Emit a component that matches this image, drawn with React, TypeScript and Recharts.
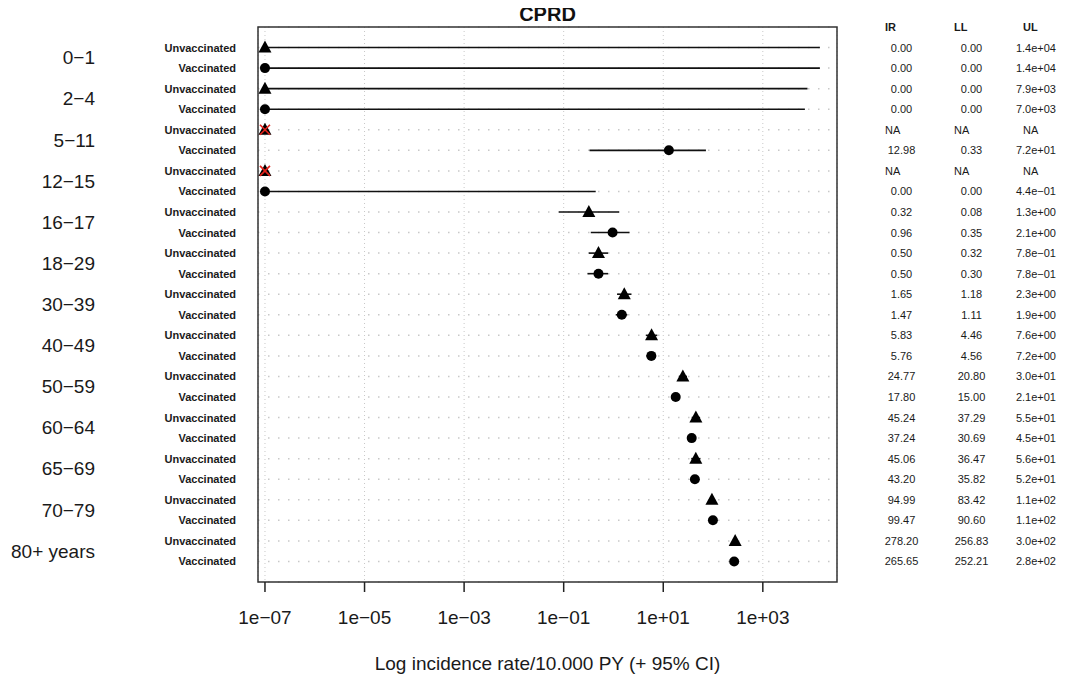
import { ScatterChart, Scatter, XAxis, YAxis, CartesianGrid, ReferenceLine, ReferenceArea } from 'recharts'

const FONT = '"Liberation Sans", Arial, Helvetica, sans-serif'

// age bands, two rows each (unvaccinated first)
const ageGroups = ['0−1', '2−4', '5−11', '12−15', '16−17', '18−29', '30−39', '40−49', '50−59', '60−64', '65−69', '70−79', '80+ years']
const statuses = ageGroups.flatMap(() => ['Unvaccinated', 'Vaccinated'])

// incidence rate / 10,000 PY with 95% CI, null = NA
const ir = [0, 0, 0, 0, null, 12.98, null, 0, 0.32, 0.96, 0.5, 0.5, 1.65, 1.47, 5.83, 5.76, 24.77, 17.8, 45.24, 37.24, 45.06, 43.2, 94.99, 99.47, 278.2, 265.65]
const ll = [0, 0, 0, 0, null, 0.33, null, 0, 0.08, 0.35, 0.32, 0.3, 1.18, 1.11, 4.46, 4.56, 20.8, 15.0, 37.29, 30.69, 36.47, 35.82, 83.42, 90.6, 256.83, 252.21]
const ul = [1.4e4, 1.4e4, 7.9e3, 7.0e3, null, 72, null, 0.44, 1.3, 2.1, 0.78, 0.78, 2.3, 1.9, 7.6, 7.2, 30, 21, 55, 45, 56, 52, 110, 110, 300, 280]

const xTicks = [1e-7, 1e-5, 1e-3, 1e-1, 1e1, 1e3]
const xTickLabels = ['1e−07', '1e−05', '1e−03', '1e−01', '1e+01', '1e+03']

// zero / NA values are drawn at the left end of the log axis
const FLOOR = 1e-7
const X_MIN = Math.pow(10, -7.14)
const X_MAX = Math.pow(10, 4.49)
const N_ROWS = statuses.length

const rowTicks = statuses.map((_, i) => i + 1)
const groupTicks = ageGroups.map((_, i) => 2 * i + 1.5)
const tableTicks = [0, ...rowTicks]

const points = statuses.map((s, i) => ({
  x: ir[i] === null || ir[i] === 0 ? FLOOR : (ir[i] as number),
  y: i + 1,
  tri: s === 'Unvaccinated',
  na: ir[i] === null,
}))

// anchor rows so the label-only axes get a scale
const groupAnchors = groupTicks.map((y) => ({ x: FLOOR, y }))
const tableAnchors = tableTicks.map((y) => ({ x: FLOOR, y }))

const intervals = statuses
  .map((_, i) => ({ row: i + 1, lo: ll[i], hi: ul[i] }))
  .filter((d) => d.lo !== null && d.hi !== null)
  .map((d) => ({ row: d.row, lo: Math.max(d.lo as number, FLOOR), hi: d.hi as number }))

function sci(v: number) {
  const [m, e] = v.toExponential(1).split('e')
  const n = Number(e)
  return `${m}e${n < 0 ? '−' : '+'}${String(Math.abs(n)).padStart(2, '0')}`
}

const fixed2 = (v: number) => v.toFixed(2)

function Marker(props: any) {
  const { cx, cy, payload } = props
  if (cx == null || cy == null) return null
  const shape = payload.tri ? (
    <polygon points={`${cx},${cy - 7} ${cx - 6.5},${cy + 5} ${cx + 6.5},${cy + 5}`} fill="#000" />
  ) : (
    <circle cx={cx} cy={cy} r={5} fill="#000" />
  )
  return (
    <g>
      {shape}
      {payload.na && (
        <g stroke="#e3231c" strokeWidth={1.6}>
          <line x1={cx - 5} y1={cy - 5} x2={cx + 5} y2={cy + 5} />
          <line x1={cx - 5} y1={cy + 5} x2={cx + 5} y2={cy - 5} />
        </g>
      )}
    </g>
  )
}

const NoShape = () => <g />

function StatusTick({ x, y, payload }: any) {
  return (
    <text x={x} y={y} textAnchor="end" dominantBaseline="central" fontFamily={FONT} fontSize={11} fontWeight="bold" fill="#1a1a1a">
      {statuses[payload.value - 1]}
    </text>
  )
}

function GroupTick({ x, y, payload }: any) {
  return (
    <text x={x} y={y} textAnchor="end" dominantBaseline="central" fontFamily={FONT} fontSize={19} fill="#1a1a1a">
      {ageGroups[Math.round((payload.value - 1.5) / 2)]}
    </text>
  )
}

function TableTick({ x, y, payload, header, values, shift, anchor, format }: any) {
  const row = payload.value
  const common = { y, dominantBaseline: 'central', fontFamily: FONT, fontSize: 11, fill: '#1a1a1a' } as any
  if (row === 0) {
    return <text {...common} x={x} textAnchor="start" fontWeight="bold">{header}</text>
  }
  const v = values[row - 1]
  if (v === null) {
    return <text {...common} x={x} textAnchor="start">NA</text>
  }
  return <text {...common} x={x + shift} textAnchor={anchor}>{format(v)}</text>
}

const tableAxis = {
  orientation: 'right' as const,
  type: 'number' as const,
  reversed: true,
  domain: [0, N_ROWS + 1],
  ticks: tableTicks,
  interval: 0,
  axisLine: false,
  tickLine: false,
  tickSize: 0,
}

export default function App() {
  return (
    <div style={{ position: 'relative', width: 1060, height: 671 }}>
      <div
        style={{
          position: 'absolute',
          top: -4,
          left: 250,
          width: 579,
          textAlign: 'center',
          fontFamily: FONT,
          fontWeight: 'bold',
          fontSize: 20,
          lineHeight: '20px',
          color: '#111',
        }}
      >
        CPRD
      </div>
      <ScatterChart width={1060} height={671} margin={{ top: 19, right: 23, bottom: 0, left: 0 }}>
        <CartesianGrid horizontal={false} stroke="#c8c8c8" strokeDasharray="1 3" />
        <CartesianGrid vertical={false} stroke="#c8c8c8" strokeWidth={1.5} strokeDasharray="1.5 8.5" />
        <XAxis
          dataKey="x"
          type="number"
          scale="log"
          domain={[X_MIN, X_MAX]}
          allowDataOverflow
          ticks={xTicks}
          interval={0}
          tickFormatter={(v: number, i: number) => xTickLabels[i]}
          axisLine={false}
          tickSize={10}
          tickMargin={19}
          tickLine={{ stroke: '#222', strokeWidth: 1.5 }}
          tick={{ fontSize: 19, fill: '#1a1a1a', fontFamily: FONT }}
          height={97}
          label={{
            value: 'Log incidence rate/10.000 PY (+ 95% CI)',
            position: 'insideBottom',
            offset: 9,
            fontSize: 19,
            fill: '#1a1a1a',
            fontFamily: FONT,
          }}
        />
        <YAxis
          dataKey="y"
          type="number"
          reversed
          domain={[0, N_ROWS + 1]}
          ticks={rowTicks}
          interval={0}
          width={150}
          axisLine={false}
          tickLine={false}
          tickSize={0}
          tickMargin={22}
          tick={<StatusTick />}
        />
        <YAxis
          yAxisId="grp"
          dataKey="y"
          type="number"
          reversed
          domain={[0, N_ROWS + 1]}
          ticks={groupTicks}
          interval={0}
          width={100}
          axisLine={false}
          tickLine={false}
          tickSize={0}
          tickMargin={13}
          tick={<GroupTick />}
        />
        <YAxis {...tableAxis} yAxisId="ir" dataKey="y" width={66} tickMargin={48} tick={<TableTick header="IR" values={ir} shift={16.5} anchor="middle" format={fixed2} />} />
        <YAxis {...tableAxis} yAxisId="ll" dataKey="y" width={70} tickMargin={51} tick={<TableTick header="LL" values={ll} shift={17.5} anchor="middle" format={fixed2} />} />
        <YAxis {...tableAxis} yAxisId="ul" dataKey="y" width={72} tickMargin={50} tick={<TableTick header="UL" values={ul} shift={33} anchor="end" format={sci} />} />
        {intervals.map((d) => (
          <ReferenceLine
            key={d.row}
            segment={[
              { x: d.lo, y: d.row },
              { x: d.hi, y: d.row },
            ]}
            stroke="#111"
            strokeWidth={1.6}
          />
        ))}
        <ReferenceArea x1={X_MIN} x2={X_MAX} y1={0} y2={N_ROWS + 1} fill="none" stroke="#333" strokeWidth={1.5} ifOverflow="visible" />
        <Scatter data={groupAnchors} yAxisId="grp" shape={<NoShape />} isAnimationActive={false} />
        <Scatter data={tableAnchors} yAxisId="ir" shape={<NoShape />} isAnimationActive={false} />
        <Scatter data={tableAnchors} yAxisId="ll" shape={<NoShape />} isAnimationActive={false} />
        <Scatter data={tableAnchors} yAxisId="ul" shape={<NoShape />} isAnimationActive={false} />
        <Scatter data={points} shape={<Marker />} isAnimationActive={false} />
      </ScatterChart>
    </div>
  )
}
